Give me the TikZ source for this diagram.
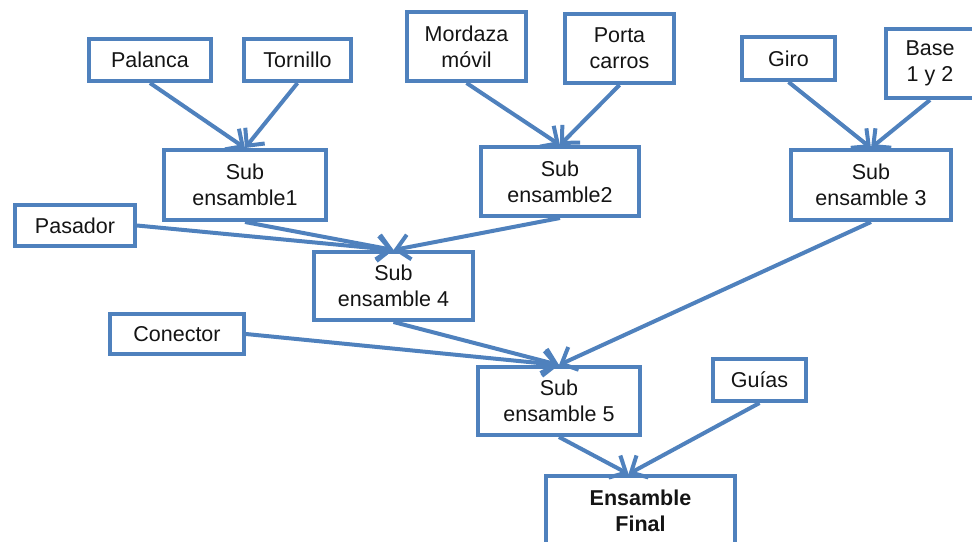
\documentclass[tikz,border=0pt]{standalone}
\usepackage{fontspec}
\setmainfont{Liberation Sans}
\definecolor{partblue}{RGB}{79,129,189}
\definecolor{labeltext}{RGB}{20,20,20}
\usetikzlibrary{arrows.meta}

\begin{document}
\begin{tikzpicture}[x=1pt, y={(0pt,-1pt)},
  >={Straight Barb[length=13pt, width=25pt]},
  basebox/.style={
    rectangle, draw=partblue, line width=4pt,
    inner sep=0pt, text=labeltext,
    font=\fontsize{21.5}{26}\selectfont,
  },
  part/.style={basebox, align=center},
  arr/.style={
    ->, line width=4pt, color=partblue,
  },
]
\useasboundingbox (0,0) rectangle (972,541);

% --- Piezas sueltas (arriba) ---
\node[part, minimum width=122, minimum height=42] (pal) at (150, 60) {Palanca};
\node[part, minimum width=107, minimum height=42] (tor) at (297.5, 60) {Tornillo};
\node[part, minimum width=119, minimum height=69] (mor) at (466.5, 46.5) {Mordaza\\móvil};
\node[part, minimum width=109, minimum height=69] (por) at (619.5, 48.5) {Porta\\carros};
\node[part, minimum width=93, minimum height=43] (giro) at (788.5, 58.5) {Giro};
\node[part, minimum width=88, minimum height=69] (base) at (930, 63.5) {Base\\1 y 2};

% --- Subensambles ---
\node[part, minimum width=162, minimum height=70] (sub1) at (245, 185) {Sub\\ensamble1};
\node[part, minimum width=158, minimum height=69] (sub2) at (560, 181.5) {Sub\\ensamble2};
\node[part, minimum width=160, minimum height=70] (sub3) at (871, 185) {Sub\\ensamble 3};
\node[part, minimum width=120, minimum height=41] (pas) at (75, 225.5) {Pasador};
\node[part, minimum width=159, minimum height=68] (sub4) at (393.5, 286) {Sub\\ensamble 4};
\node[part, minimum width=134, minimum height=40] (con) at (177, 334) {Conector};
\node[part, minimum width=162, minimum height=68] (sub5) at (559, 401) {Sub\\ensamble 5};
\node[part, minimum width=93, minimum height=42] (guias) at (759.5, 380) {Guías};

% --- Ensamble final (cortado por abajo) ---
\node[basebox, anchor=north, minimum width=189, text height=29pt, text depth=70pt,
  font=\fontsize{21.5}{26}\selectfont\bfseries]
  (final) at (640.5, 474) {\begin{tabular}[t]{@{}c@{}}Ensamble\\Final\end{tabular}};

% --- Flechas ---
\draw[arr] (pal.south) -- (sub1.north);
\draw[arr] (tor.south) -- (sub1.north);
\draw[arr] (mor.south) -- (sub2.north);
\draw[arr] (por.south) -- (sub2.north);
\draw[arr] (giro.south) -- (sub3.north);
\draw[arr] (base.south) -- (sub3.north);

\draw[arr] (pas.east) -- (sub4.north);
\draw[arr] (sub1.south) -- (sub4.north);
\draw[arr] (sub2.south) -- (sub4.north);

\draw[arr] (con.east) -- (sub5.north);
\draw[arr] (sub4.south) -- (sub5.north);
\draw[arr] (sub3.south) -- (sub5.north);

\draw[arr] (sub5.south) -- ([xshift=-12pt]final.north);
\draw[arr] (guias.south) -- ([xshift=-12pt]final.north);

\end{tikzpicture}
\end{document}
